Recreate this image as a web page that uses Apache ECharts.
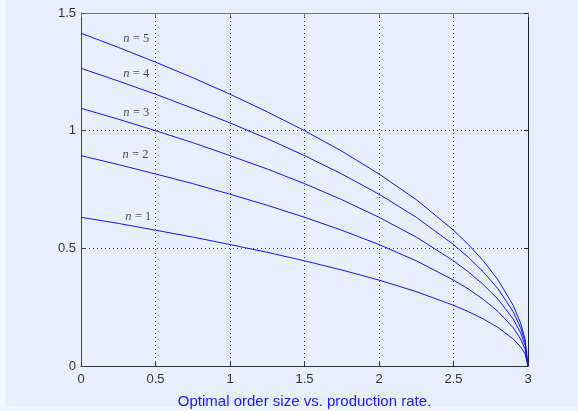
<!DOCTYPE html>
<html>
<head>
<meta charset="utf-8">
<style>
  html, body { margin: 0; padding: 0; background: #e8effc; }
  #chart { width: 578px; height: 411px; }
</style>
<script src="https://cdn.jsdelivr.net/npm/echarts@6/dist/echarts.min.js"></script>
</head>
<body>
<div id="chart"></div>
<script>
// Production rate (x) and optimal order size for n = 1..5
const rate = [0, 0.25, 0.5, 0.75, 1, 1.25, 1.5, 1.75, 2, 2.25, 2.5, 2.6, 2.7, 2.8, 2.9, 2.95, 2.98, 3];
const q1 = [0.632, 0.606, 0.577, 0.548, 0.516, 0.483, 0.447, 0.408, 0.365, 0.316, 0.258, 0.231, 0.200, 0.163, 0.115, 0.082, 0.052, 0];
const q2 = [0.894, 0.856, 0.816, 0.775, 0.730, 0.683, 0.632, 0.577, 0.516, 0.447, 0.365, 0.327, 0.283, 0.231, 0.163, 0.115, 0.073, 0];
const q3 = [1.095, 1.049, 1.000, 0.949, 0.894, 0.837, 0.775, 0.707, 0.632, 0.548, 0.447, 0.400, 0.346, 0.283, 0.200, 0.141, 0.089, 0];
const q4 = [1.265, 1.211, 1.155, 1.095, 1.033, 0.966, 0.894, 0.816, 0.730, 0.632, 0.516, 0.462, 0.400, 0.327, 0.231, 0.163, 0.103, 0];
const q5 = [1.414, 1.354, 1.291, 1.225, 1.155, 1.080, 1.000, 0.913, 0.816, 0.707, 0.577, 0.516, 0.447, 0.365, 0.258, 0.183, 0.116, 0];
const curves = [q1, q2, q3, q4, q5];

// Curve annotations "n = k"
const tagN = ['1', '2', '3', '4', '5'];
const tagX = [0.385, 0.365, 0.37, 0.37, 0.37];
const tagY = [0.633, 0.897, 1.075, 1.241, 1.39];

const xTicks = { min: 0, max: 3, interval: 0.5 };
const yTicks = { min: 0, max: 1.5, interval: 0.5 };
const xTitle = 'Optimal order size vs. production rate.';

const lineBlue = '#1414ff';
const tickFont = { color: '#333', fontSize: 13, fontFamily: 'Liberation Sans, Arial, sans-serif' };
const dotted = { show: true, lineStyle: { color: '#444', type: [1, 3], width: 1 } };

const chart = echarts.init(document.getElementById('chart'), null, { renderer: 'canvas' });

const series = curves.map((q, i) => ({
  type: 'line',
  xAxisIndex: 0, yAxisIndex: 0,
  data: rate.map((x, j) => [x, q[j]]),
  showSymbol: false,
  smooth: false,
  lineStyle: { color: lineBlue, width: 1 },
  silent: true,
  z: 3
}));

series.push({
  type: 'scatter',
  xAxisIndex: 0, yAxisIndex: 0,
  symbolSize: 0,
  silent: true,
  data: tagN.map((k, i) => ({ value: [tagX[i], tagY[i]], name: k })),
  label: {
    show: true,
    position: 'inside',
    formatter: p => '{i|n} {t|= ' + p.name + '}',
    rich: {
      i: { fontStyle: 'italic', fontFamily: 'Liberation Serif, serif', fontSize: 12.5, color: '#1a1a1a' },
      t: { fontFamily: 'Liberation Serif, serif', fontSize: 12.5, color: '#1a1a1a' }
    }
  },
  z: 5
});

chart.setOption({
  backgroundColor: '#e8effc',
  animation: false,
  graphic: [
    { type: 'rect', shape: { x: 0, y: 0, width: 6, height: 411 }, style: { fill: '#f1f5fd' }, silent: true, z: -10 },
    { type: 'rect', shape: { x: 0, y: 406, width: 578, height: 5 }, style: { fill: '#f1f5fd' }, silent: true, z: -10 }
  ],
  grid: { left: 81, right: 50, top: 13, bottom: 45, containLabel: false, outerBoundsMode: 'none', show: false },
  xAxis: [
    {
      type: 'value', min: xTicks.min, max: xTicks.max, interval: xTicks.interval,
      axisLine: { show: true, onZero: false, lineStyle: { color: '#333', width: 1 } },
      axisTick: { show: true, inside: true, length: 4, lineStyle: { color: '#333' } },
      axisLabel: Object.assign({ margin: 7 }, tickFont),
      splitLine: dotted,
      name: xTitle, nameLocation: 'middle', nameGap: 28,
      nameTextStyle: { color: '#1a1aff', fontSize: 15, fontFamily: 'Liberation Sans, Arial, sans-serif' }
    },
    {
      type: 'value', position: 'top', min: xTicks.min, max: xTicks.max, interval: xTicks.interval,
      axisLine: { show: true, onZero: false, lineStyle: { color: '#777', width: 1 } },
      axisTick: { show: true, inside: true, length: 4, lineStyle: { color: '#777' } },
      axisLabel: { show: false },
      splitLine: { show: false }
    }
  ],
  yAxis: [
    {
      type: 'value', min: yTicks.min, max: yTicks.max, interval: yTicks.interval,
      axisLine: { show: true, onZero: false, lineStyle: { color: '#444', width: 1 } },
      axisTick: { show: true, inside: true, length: 4, lineStyle: { color: '#444' } },
      axisLabel: Object.assign({ margin: 5 }, tickFont),
      splitLine: dotted
    },
    {
      type: 'value', position: 'right', min: yTicks.min, max: yTicks.max, interval: yTicks.interval,
      axisLine: { show: true, onZero: false, lineStyle: { color: '#222', width: 1 } },
      axisTick: { show: true, inside: true, length: 4, lineStyle: { color: '#222' } },
      axisLabel: { show: false },
      splitLine: { show: false }
    }
  ],
  series: series
});
</script>
</body>
</html>
